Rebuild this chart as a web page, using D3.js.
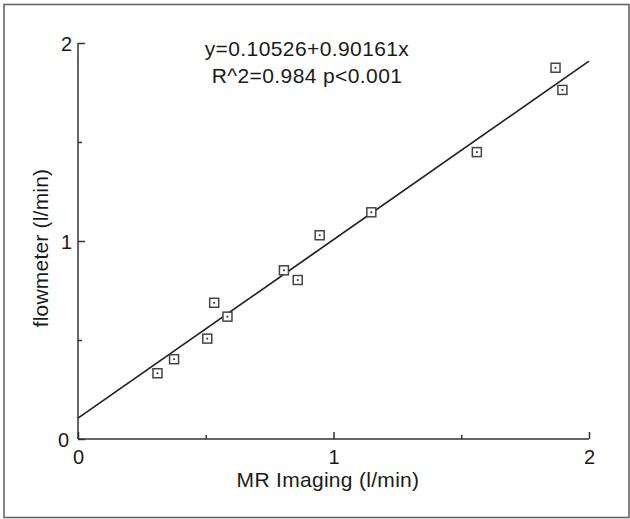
<!DOCTYPE html>
<html>
<head>
<meta charset="utf-8">
<script src="https://cdn.jsdelivr.net/npm/d3@7"></script>
<style>
  html, body { margin: 0; padding: 0; background: #fff; }
  text { font-family: "Liberation Sans", Arial, Helvetica, sans-serif; fill: #1a1a1a; }
</style>
</head>
<body>
<svg id="chart"></svg>
<script>
// values
const mrImaging = [0.311, 0.376, 0.506, 0.533, 0.585, 0.806, 0.860, 0.946, 1.148, 1.561, 1.869, 1.896];
const flowmeter = [0.332, 0.403, 0.507, 0.688, 0.618, 0.852, 0.803, 1.029, 1.145, 1.449, 1.875, 1.763];
const majorTicks = [0, 1, 2];
const minorTicks = [0.5, 1.5];
const fit = { intercept: 0.10526, slope: 0.90161 };
const equationLines = ["y=0.10526+0.90161x", "R^2=0.984 p<0.001"];
const xTitle = "MR Imaging (l/min)";
const yTitle = "flowmeter (l/min)";

const width = 630, height = 519;
const ink = "#222";

const svg = d3.select("#chart")
    .attr("width", width)
    .attr("height", height);

// outer frame
svg.append("rect")
    .attr("x", 4).attr("y", 4.5)
    .attr("width", 625).attr("height", 513)
    .attr("fill", "none")
    .attr("stroke", "#666")
    .attr("stroke-width", 1.6);

const x = d3.scaleLinear().domain([0, 2]).range([78, 589]);
const y = d3.scaleLinear().domain([0, 2]).range([439, 43]);

// x axis (ticks point up, into the plot)
const xAxis = svg.append("g")
    .attr("transform", `translate(0,${y(0)})`)
    .call(d3.axisBottom(x).tickValues(majorTicks).tickSize(-7).tickPadding(0).tickFormat(d3.format("d")));
xAxis.select(".domain").attr("d", `M${x(0)},0H${x(2)}`);
xAxis.selectAll("text").attr("y", 24.5).attr("dy", 0).style("font-size", "20px");

svg.append("g")
    .attr("transform", `translate(0,${y(0)})`)
    .call(d3.axisBottom(x).tickValues(minorTicks).tickSize(-4).tickFormat(""))
    .call(g => g.select(".domain").remove());

// y axis (ticks point right)
const yAxis = svg.append("g")
    .attr("transform", `translate(${x(0)},0)`)
    .call(d3.axisLeft(y).tickValues(majorTicks).tickSize(-7).tickPadding(0).tickFormat(d3.format("d")));
yAxis.select(".domain").attr("d", `M0,${y(0)}V${y(2)}`);
yAxis.selectAll("text").attr("x", -6).attr("dy", "0.36em").style("font-size", "20px");
yAxis.selectAll(".tick").filter(d => d === 0).select("text").attr("x", -9);

svg.append("g")
    .attr("transform", `translate(${x(0)},0)`)
    .call(d3.axisLeft(y).tickValues(minorTicks).tickSize(-4).tickFormat(""))
    .call(g => g.select(".domain").remove());

svg.selectAll(".domain, .tick line").attr("stroke", "#333").attr("stroke-width", 1.5);

// regression line
svg.append("line")
    .attr("x1", x(0)).attr("y1", y(fit.intercept))
    .attr("x2", x(2)).attr("y2", y(fit.intercept + fit.slope * 2))
    .attr("stroke", ink)
    .attr("stroke-width", 1.7);

// square markers with a centre dot
const pts = mrImaging.map((v, i) => ({ x: v, y: flowmeter[i] }));
const mk = svg.append("g").selectAll("g")
    .data(pts)
    .enter().append("g")
    .attr("transform", d => `translate(${x(d.x)},${y(d.y)})`);
mk.append("rect")
    .attr("x", -4.5).attr("y", -4.5)
    .attr("width", 9).attr("height", 9)
    .attr("fill", "#fff")
    .attr("stroke", "#444")
    .attr("stroke-width", 1.5);
mk.append("rect")
    .attr("x", -0.9).attr("y", -0.9)
    .attr("width", 1.8).attr("height", 1.8)
    .attr("fill", "#333");

// equation text
svg.append("g").selectAll("text")
    .data(equationLines)
    .enter().append("text")
    .attr("x", 307)
    .attr("y", (d, i) => 56 + i * 27)
    .attr("text-anchor", "middle")
    .style("font-size", "21px")
    .style("letter-spacing", "0.4px")
    .text(d => d);

// axis titles
svg.append("text")
    .attr("x", 328).attr("y", 487)
    .attr("text-anchor", "middle")
    .style("font-size", "21px")
    .style("letter-spacing", "0.3px")
    .text(xTitle);

svg.append("text")
    .attr("transform", "translate(48,248) rotate(-90)")
    .attr("text-anchor", "middle")
    .style("font-size", "21px")
    .style("letter-spacing", "0.2px")
    .text(yTitle);
</script>
</body>
</html>
